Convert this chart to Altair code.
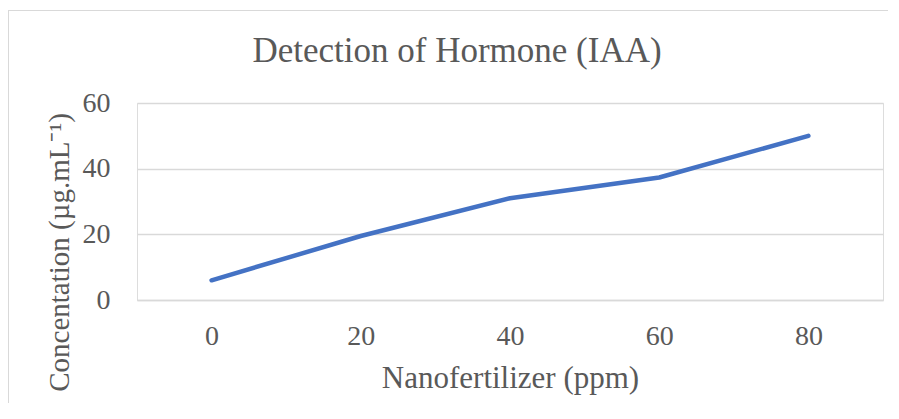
import altair as alt
import pandas as pd

doses = [0, 20, 40, 60, 80]
concentration = [6, 19.5, 31, 37.3, 50]
y_ticks = [0, 20, 40, 60]

df = pd.DataFrame({"dose": doses, "conc": concentration})

FONT = "Liberation Serif"
TEXT = "#595959"
GRID = "#d9d9d9"

line = alt.Chart(df).mark_line(
    color="#4472C4", strokeWidth=4.5, strokeCap="round", strokeJoin="round"
).encode(
    x=alt.X(
        "dose:O",
        scale=alt.Scale(type="point", padding=0.5),
        axis=alt.Axis(
            title="Nanofertilizer (ppm)",
            labelAngle=0,
            ticks=False,
            grid=False,
            domain=True,
            domainColor=GRID,
            domainWidth=1.3,
            labelFont=FONT,
            labelFontSize=28,
            labelColor=TEXT,
            labelPadding=22,
            titleFont=FONT,
            titleFontSize=31,
            titleFontWeight="normal",
            titleColor=TEXT,
            titleBaseline="alphabetic",
            titleY=87,
        ),
    ),
    y=alt.Y(
        "conc:Q",
        scale=alt.Scale(domain=[0, 60], nice=False, zero=True),
        axis=alt.Axis(
            title="Concentation (µg.mL⁻¹)",
            values=y_ticks,
            ticks=False,
            domain=False,
            grid=True,
            gridColor=GRID,
            gridWidth=1.3,
            labelFont=FONT,
            labelFontSize=28,
            labelColor=TEXT,
            labelPadding=27,
            labelBaseline="middle",
            titleFont=FONT,
            titleFontSize=29,
            titleFontWeight="normal",
            titleColor=TEXT,
            titleAngle=-90,
            titleAlign="center",
            titleBaseline="alphabetic",
            titleX=-69,
            titleY=149,
        ),
    ),
)

top_frame = alt.Data(values=[{"a": 1}])
left_frame = alt.Data(values=[{"b": 1}])
top_edge = alt.Chart(top_frame).mark_rect(color=GRID, width=880, height=1).encode(
    x=alt.value(311), y=alt.value(-92.5)
)
left_edge = alt.Chart(left_frame).mark_rule(color=GRID, strokeWidth=1).encode(
    x=alt.value(-128.5), y=alt.value(-92.5), y2=alt.value(300)
)

chart = alt.layer(top_edge, left_edge, line).properties(
    width=746,
    height=197,
    autosize=alt.AutoSizeParams(type="none"),
    padding={"left": 129, "top": 95, "right": 8, "bottom": 103},
    title=alt.TitleParams(
        text="Detection of Hormone (IAA)",
        font=FONT,
        fontSize=35,
        fontWeight="normal",
        color=TEXT,
        anchor="middle",
        baseline="alphabetic",
        offset=-86.5,
        dx=-53,
    ),
).configure_view(stroke=None).configure(background="white")

chart.save("out.html", embed_options={"renderer": "svg", "actions": False})
